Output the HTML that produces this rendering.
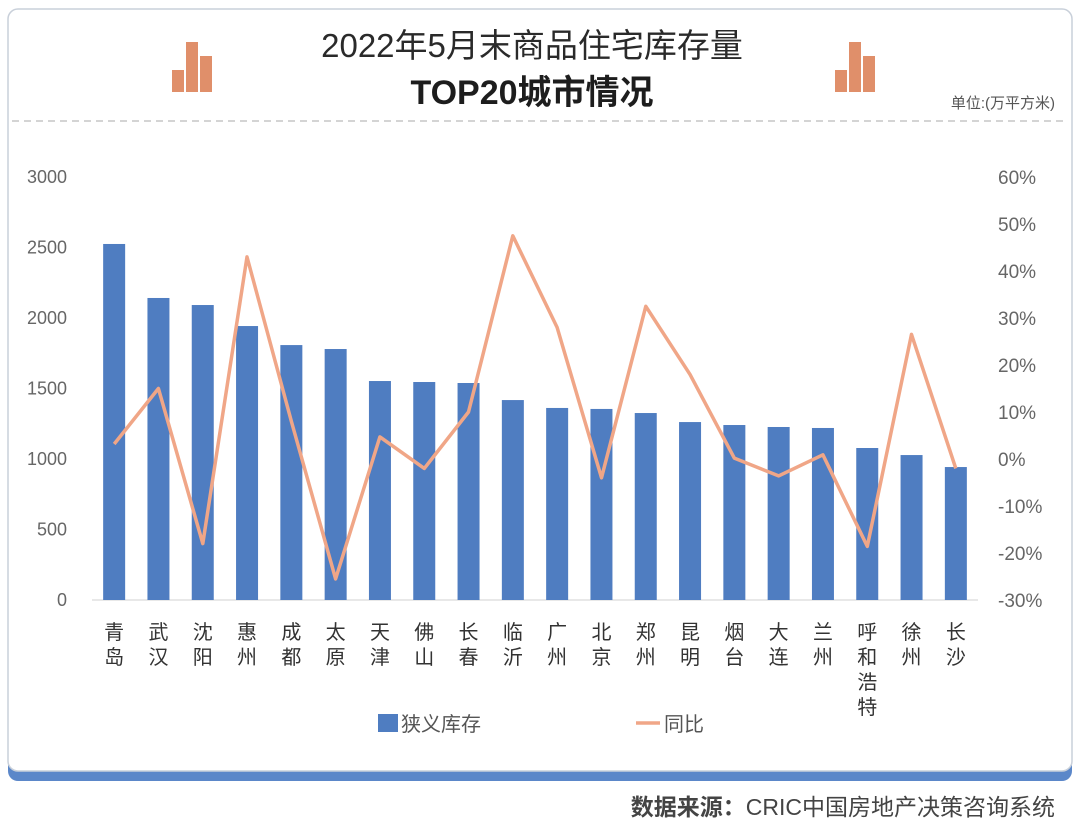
<!DOCTYPE html>
<html><head><meta charset="utf-8"><style>
body{margin:0;width:1080px;height:832px;background:#fff;font-family:"Liberation Sans","Noto Sans CJK SC",sans-serif;overflow:hidden}
</style></head><body>
<svg width="1080" height="832" viewBox="0 0 1080 832" xmlns="http://www.w3.org/2000/svg">
<rect x="8" y="9" width="1064" height="772" rx="10" fill="#5b87c9"/>
<rect x="8" y="9" width="1064" height="762" rx="10" fill="#fff" stroke="#c9d0da" stroke-width="1.5"/>
<g fill="#e08f6a"><rect x="172" y="70" width="12" height="22"/><rect x="186" y="42" width="12" height="50"/><rect x="200" y="56" width="12" height="36"/></g>
<g fill="#e08f6a"><rect x="835" y="70" width="12" height="22"/><rect x="849" y="42" width="12" height="50"/><rect x="863" y="56" width="12" height="36"/></g>
<text x="532" y="57" text-anchor="middle" font-size="33" fill="#2a2a2a" font-family="Liberation Sans,Noto Sans CJK SC,sans-serif">2022年5月末商品住宅库存量</text>
<text x="532" y="104" text-anchor="middle" font-size="34" font-weight="bold" fill="#1d1d1d" font-family="Liberation Sans,Noto Sans CJK SC,sans-serif">TOP20城市情况</text>
<text x="1055" y="108" text-anchor="end" font-size="15" fill="#555" font-family="Liberation Sans,Noto Sans CJK SC,sans-serif">单位:(万平方米)</text>
<line x1="12" y1="121" x2="1068" y2="121" stroke="#aaa" stroke-dasharray="7,5"/>
<g id="plot"></g>
<text x="1055" y="815" text-anchor="end" font-size="23" fill="#444" font-family="Liberation Sans,Noto Sans CJK SC,sans-serif"><tspan font-weight="bold">数据来源：</tspan>CRIC中国房地产决策咨询系统</text>
</svg>
<script>
const cities=["青岛","武汉","沈阳","惠州","成都","太原","天津","佛山","长春","临沂","广州","北京","郑州","昆明","烟台","大连","兰州","呼和浩特","徐州","长沙"];
const inventory=[2525,2142,2092,1943,1808,1780,1553,1546,1539,1418,1362,1355,1326,1262,1241,1227,1220,1078,1028,943];
const yoy=[3.2,15,-18,43,8,-25.5,4.7,-2,10,47.5,28,-4,32.5,18,0.2,-3.6,0.9,-18.6,26.5,-2];
const leftTicks=[0,500,1000,1500,2000,2500,3000];
const rightTicks=[-30,-20,-10,0,10,20,30,40,50,60];
const NS="http://www.w3.org/2000/svg";
const plotG=document.getElementById('plot');
const x0=92,step=44.3,base=600,plotTop=177;
const yL=v=>base-(v/3000)*(base-plotTop);
const yR=v=>base-((v+30)/90)*(base-plotTop);
const xc=i=>x0+step*(i+0.5);
function mk(t,a){const e=document.createElementNS(NS,t);for(const k in a)e.setAttribute(k,a[k]);plotG.appendChild(e);return e;}
leftTicks.forEach(v=>{const t=mk('text',{x:67,y:yL(v)+6,'text-anchor':'end','font-size':18,fill:'#666'});t.textContent=v;

});
rightTicks.forEach(v=>{const t=mk('text',{x:998,y:yR(v)+7,'font-size':19,fill:'#666'});t.textContent=v+'%';

});
const ax=mk('line',{x1:x0,y1:base,x2:x0+step*20,y2:base,stroke:'#d0d0d0','stroke-width':1});


inventory.forEach((v,i)=>{const r=mk('rect',{x:xc(i)-11,y:yL(v),width:22,height:base-yL(v),fill:'#4f7dc1'});

});
const pts=yoy.map((v,i)=>xc(i).toFixed(1)+','+yR(v).toFixed(1)).join(' ');
const pl=mk('polyline',{points:pts,fill:'none',stroke:'#f0a687','stroke-width':3.5,'stroke-linejoin':'round'});


cities.forEach((c,i)=>{[...c].forEach((ch,j)=>{const t=mk('text',{x:xc(i),y:639+j*25,'text-anchor':'middle','font-size':20,fill:'#333'});t.textContent=ch;

});});
const l1=mk('rect',{x:378,y:714,width:20,height:18,fill:'#4f7dc1'});


const lt1=mk('text',{x:401,y:731,'font-size':20,fill:'#555'});lt1.textContent='狭义库存';


const l2=mk('line',{x1:636,y1:723,x2:660,y2:723,stroke:'#f0a687','stroke-width':3.5});


const lt2=mk('text',{x:664,y:731,'font-size':20,fill:'#555'});lt2.textContent='同比';


</script>
</body></html>
